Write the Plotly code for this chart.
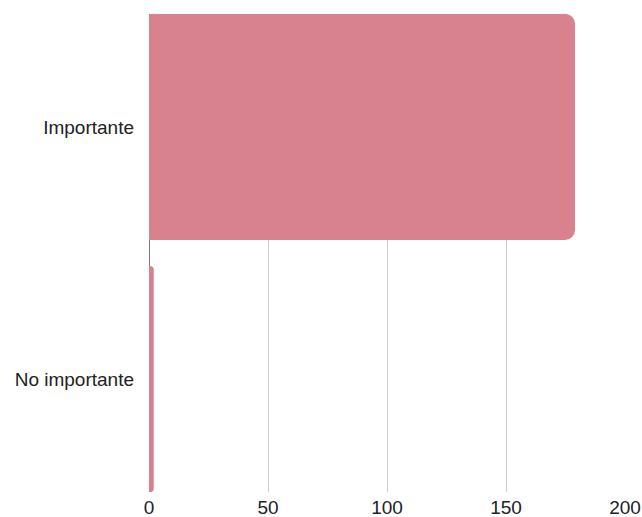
import plotly.graph_objects as go

categories = ["Importante", "No importante"]
values = [179, 2]
tick_vals = [0, 50, 100, 150, 200]

fig = go.Figure(go.Bar(
    x=values, y=categories, orientation="h",
    marker=dict(color="#d9828f", line=dict(width=0)),
    width=0.897,
))

fig.update_layout(
    width=642, height=517,
    margin=dict(l=149, r=17, t=14, b=25),
    paper_bgcolor="white", plot_bgcolor="white",
    barcornerradius=10,
    showlegend=False,
    font=dict(family="Liberation Sans, Arial, sans-serif", size=19, color="#222222"),
)
fig.update_xaxes(
    range=[0, 200], tickvals=tick_vals, showgrid=True, gridcolor="#cccccc", gridwidth=1,
    zeroline=True, zerolinecolor="#777777", zerolinewidth=1,
    showline=False, ticks="", fixedrange=True, automargin=False, ticklabelstandoff=2,
)
fig.update_yaxes(
    range=[1.448, -0.448], showgrid=False, zeroline=False, showline=False,
    ticks="", ticklabelstandoff=14, fixedrange=True, automargin=False,
)

fig.write_html(
    "out.html",
    config={"displayModeBar": False},
    post_script="document.body.style.margin='0';document.body.style.overflow='hidden';",
)
